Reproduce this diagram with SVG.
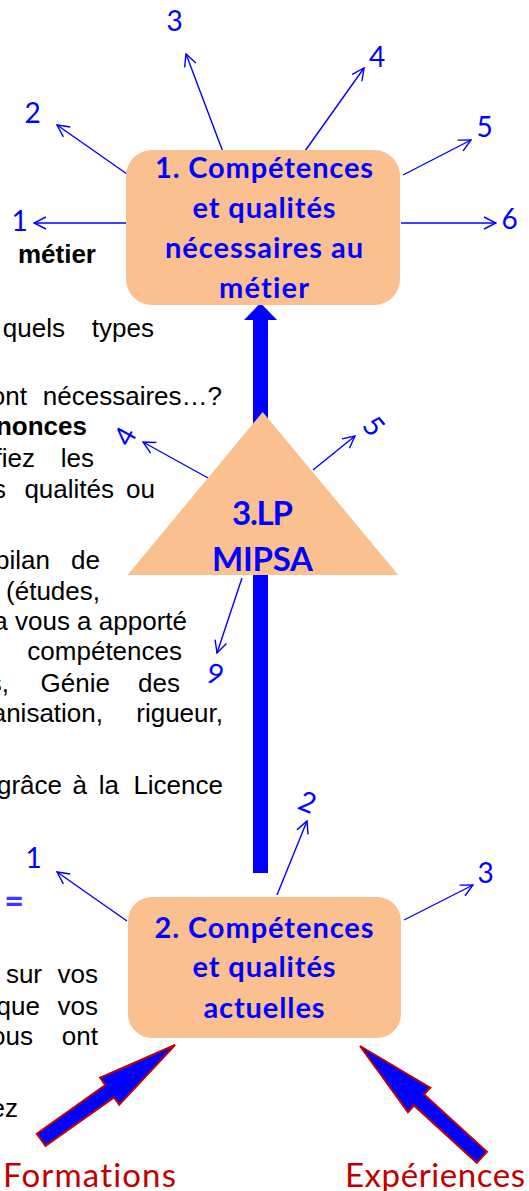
<svg xmlns="http://www.w3.org/2000/svg" width="529" height="1191" viewBox="0 0 529 1191">
<style>
text{font-variant-ligatures:none;font-feature-settings:"liga" 0,"clig" 0}
.bg{font-family:"Liberation Sans",Arial,sans-serif;font-size:26px;fill:#000}
.bgb{font-family:"Liberation Sans",Arial,sans-serif;font-size:26px;font-weight:bold;fill:#000}
.node{fill:#FAC090}
.nt{font-family:Lato,"Open Sans",sans-serif;font-weight:bold;font-size:29px;fill:#0000FF;text-anchor:middle}
.tt{font-family:Lato,"Open Sans",sans-serif;font-weight:bold;font-size:33px;fill:#0000FF;text-anchor:middle}
.lbl{font-family:Lato,"Open Sans",sans-serif;font-size:28px;fill:#0000FF;text-anchor:middle}
.thin{stroke:#0000FF;stroke-width:1.4;fill:none;marker-end:url(#open)}
.block{fill:#0000FF;stroke:#C00000;stroke-width:2;stroke-linejoin:miter}
.src{font-family:Lato,"Open Sans",sans-serif;font-size:33px;fill:#C00000}
</style>
<defs>
<marker id="open" markerUnits="userSpaceOnUse" viewBox="0 0 14 14" refX="13" refY="7" markerWidth="14" markerHeight="14" orient="auto">
<path d="M1,1 L13,7 L1,13" fill="none" stroke="#0000FF" stroke-width="1.4"/>
</marker>
</defs>
<rect width="529" height="1191" fill="#fff"/>
<g id="background-text">
<text class="bgb" x="96" y="263" text-anchor="end">métier</text>
<text class="bg" x="65" y="337" text-anchor="end">quels</text>
<text class="bg" x="154" y="337" text-anchor="end">types</text>
<text class="bg" x="27" y="405" text-anchor="end">ont</text>
<text class="bg" x="222" y="405" text-anchor="end">nécessaires…?</text>
<text class="bgb" x="87" y="435" text-anchor="end">nonces</text>
<text class="bg" x="35" y="467" text-anchor="end">fiez</text>
<text class="bg" x="94" y="467" text-anchor="end">les</text>
<text class="bg" x="6" y="498" text-anchor="end">s</text>
<text class="bg" x="114" y="498" text-anchor="end">qualités</text>
<text class="bg" x="155" y="498" text-anchor="end">ou</text>
<text class="bg" x="50" y="569" text-anchor="end">bilan</text>
<text class="bg" x="100" y="569" text-anchor="end">de</text>
<text class="bg" x="100" y="600" text-anchor="end">(études,</text>
<text class="bg" x="187" y="630" text-anchor="end">a vous a apporté</text>
<text class="bg" x="182" y="660" text-anchor="end">compétences</text>
<text class="bg" x="9" y="692" text-anchor="end">s,</text>
<text class="bg" x="110" y="692" text-anchor="end">Génie</text>
<text class="bg" x="180" y="692" text-anchor="end">des</text>
<text class="bg" x="103" y="722" text-anchor="end">anisation,</text>
<text class="bg" x="223" y="722" text-anchor="end">rigueur,</text>
<text class="bg" x="62" y="794" text-anchor="end">grâce</text>
<text class="bg" x="87" y="794" text-anchor="end">à</text>
<text class="bg" x="119" y="794" text-anchor="end">la</text>
<text class="bg" x="223" y="794" text-anchor="end">Licence</text>
<text x="14" y="913" text-anchor="middle" style="font-family:Lato,sans-serif;font-weight:bold;font-size:34px;fill:#3a3aff">=</text>
<text class="bg" x="42" y="983" text-anchor="end">sur</text>
<text class="bg" x="98" y="983" text-anchor="end">vos</text>
<text class="bg" x="40" y="1015" text-anchor="end">que</text>
<text class="bg" x="98" y="1015" text-anchor="end">vos</text>
<text class="bg" x="33" y="1045" text-anchor="end">vous</text>
<text class="bg" x="98" y="1045" text-anchor="end">ont</text>
<text class="bg" x="18" y="1117" text-anchor="end">ez</text>
</g>
<g id="connectors">
<path d="M253,873 V320 H244 L260.5,303 L277,320 H268 V873 Z" fill="#0000FF"/>
<line class="thin" x1="126" y1="223" x2="34" y2="223"/>
<line class="thin" x1="127" y1="174" x2="57" y2="125"/>
<line class="thin" x1="223" y1="152" x2="186" y2="54"/>
<line class="thin" x1="305" y1="151" x2="364" y2="68"/>
<line class="thin" x1="403" y1="175" x2="471" y2="140"/>
<line class="thin" x1="401" y1="223" x2="496" y2="223"/>
<line class="thin" x1="208" y1="478" x2="143" y2="442"/>
<line class="thin" x1="313" y1="470" x2="355" y2="436"/>
<line class="thin" x1="242" y1="578" x2="217" y2="653"/>
<line class="thin" x1="127" y1="921" x2="57" y2="872"/>
<line class="thin" x1="277" y1="895" x2="307" y2="821"/>
<line class="thin" x1="404" y1="920" x2="473" y2="885"/>
<polygon class="block" transform="translate(175,1045) rotate(-35.3)" points="0,0 -80,-16.5 -80,-7.5 -164,-7.5 -164,7.5 -80,7.5 -80,16.5"/>
<polygon class="block" transform="translate(360,1046) rotate(-137.6)" points="0,0 -80,-16.5 -80,-7.5 -165,-7.5 -165,7.5 -80,7.5 -80,16.5"/>
</g>
<g id="node1">
<rect class="node" x="126" y="150" width="274" height="155" rx="26"/>
<text class="nt" x="264" y="178" textLength="218" lengthAdjust="spacing">1. Compétences</text>
<text class="nt" x="264" y="218" textLength="143" lengthAdjust="spacing">et qualités</text>
<text class="nt" x="264" y="258" textLength="198" lengthAdjust="spacing">nécessaires au</text>
<text class="nt" x="264" y="298" textLength="90" lengthAdjust="spacing">métier</text>
</g>
<g id="node3">
<polygon class="node" points="262.7,412 127.5,575 398.3,575"/>
<text class="tt" x="262.5" y="525" textLength="61" lengthAdjust="spacing">3.LP</text>
<text class="tt" x="262.5" y="571" textLength="101" lengthAdjust="spacing">MIPSA</text>
</g>
<g id="node2">
<rect class="node" x="128" y="897" width="273" height="141" rx="24"/>
<text class="nt" x="264" y="938" textLength="219" lengthAdjust="spacing">2. Compétences</text>
<text class="nt" x="264" y="977" textLength="143" lengthAdjust="spacing">et qualités</text>
<text class="nt" x="264" y="1018" textLength="121" lengthAdjust="spacing">actuelles</text>
</g>
<g id="labels">
<text class="lbl" x="19.5" y="231">1</text>
<text class="lbl" x="32.5" y="123">2</text>
<text class="lbl" x="174.5" y="31">3</text>
<text class="lbl" x="377" y="67">4</text>
<text class="lbl" x="484.5" y="137">5</text>
<text class="lbl" x="509.5" y="229">6</text>
<text class="lbl" transform="translate(125,436) rotate(-61)" x="0" y="10">4</text>
<text class="lbl" transform="translate(374,426) rotate(51)" x="0" y="10">5</text>
<text class="lbl" transform="translate(215,674) rotate(18)" x="0" y="10">9</text>
<text class="lbl" transform="translate(307.5,802) rotate(22)" x="0" y="10">2</text>
<text class="lbl" x="33.5" y="868">1</text>
<text class="lbl" x="485.5" y="883">3</text>
</g>
<g id="sources">
<text class="src" x="3" y="1187" textLength="173" lengthAdjust="spacing">Formations</text>
<text class="src" x="345" y="1187" textLength="180" lengthAdjust="spacing">Expériences</text>
</g>
</svg>
